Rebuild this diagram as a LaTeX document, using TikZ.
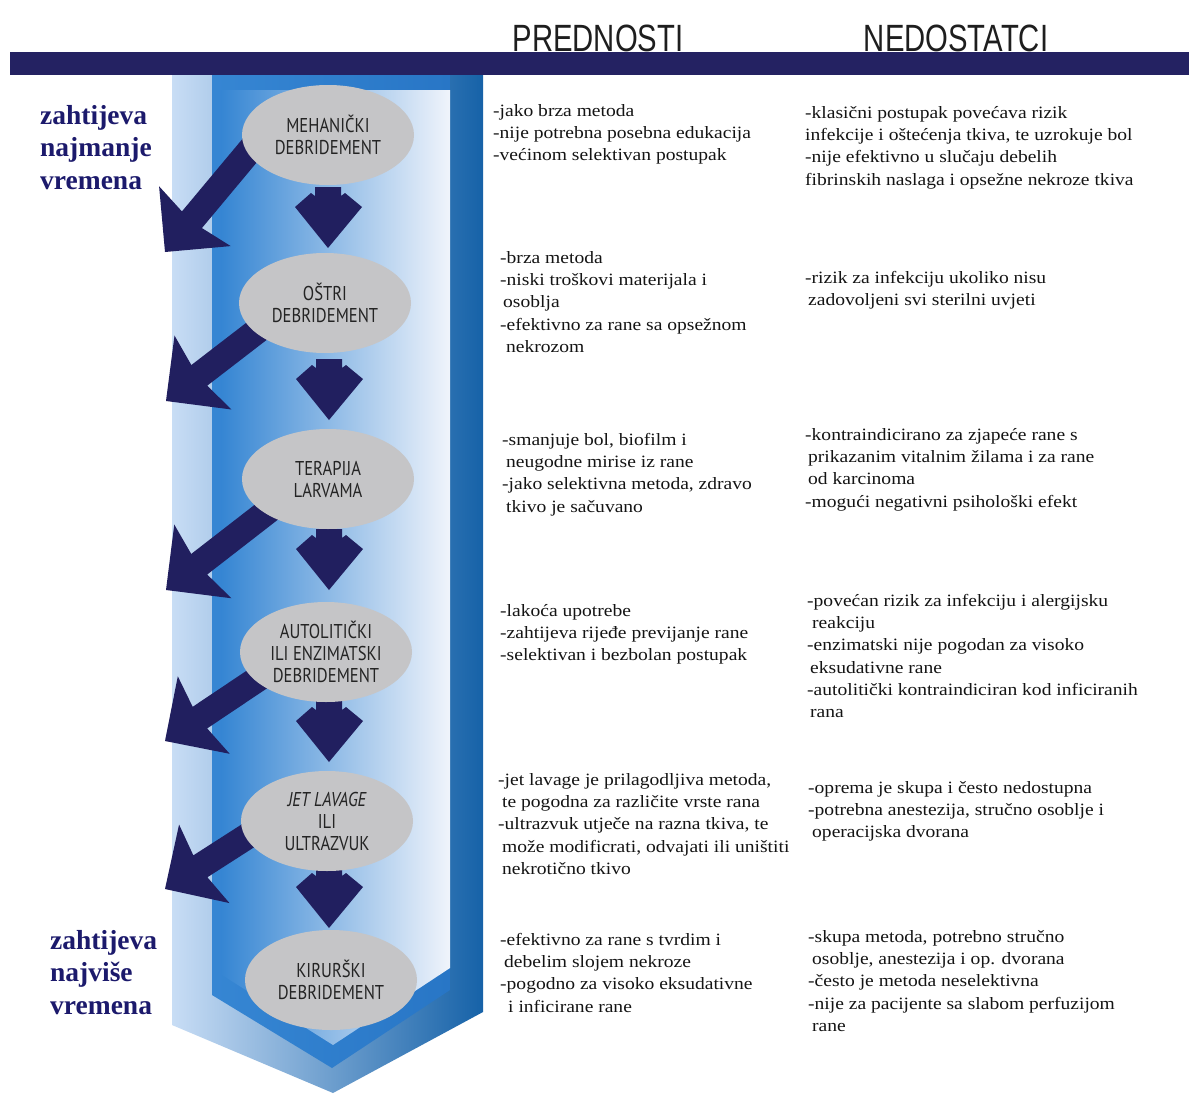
\documentclass[tikz,border=0pt]{standalone}
\usepackage{fontspec}
\setmainfont{Liberation Serif}
\newfontfamily\bodyfont{Liberation Serif}[FakeStretch=1.13]
\newfontfamily\headfont{Liberation Sans}[FakeStretch=0.77]
\newfontfamily\ellfont{PT Sans}[FakeStretch=0.83]
\usetikzlibrary{shapes.geometric,calc}
\definecolor{navy}{RGB}{36,34,98}
\definecolor{arrownavy}{RGB}{33,31,95}
\definecolor{lightband}{RGB}{200,221,245}
\definecolor{darkband}{RGB}{22,98,168}
\definecolor{midblue}{RGB}{54,134,211}
\definecolor{midblue2}{RGB}{40,118,198}
\definecolor{paleblue}{RGB}{240,244,251}
\definecolor{ellgray}{RGB}{197,197,199}
\definecolor{elltext}{RGB}{36,36,36}
\definecolor{labnavy}{RGB}{28,26,108}
\definecolor{headtext}{RGB}{30,30,30}
\newcommand\diagarrow[2]{\fill[diag] (#2) -- ($(#2)!66pt!45:(#1)$) -- ($(#2)!44pt!17.2:(#1)$) -- ($(#1)!13pt!-90:(#2)$) -- ($(#1)!13pt!90:(#2)$) -- ($(#2)!44pt!-17.2:(#1)$) -- ($(#2)!66pt!-45:(#1)$) -- cycle;}
\newcommand\downarrowshape[1]{\fill[downarr] (#1) -- ++(34,-41) -- ++(-17,-14) -- ++(-4,3) -- ++(0,-9) -- ++(-26,0) -- ++(0,9) -- ++(-4,-3) -- ++(-16,14) -- cycle;}
\begin{document}
\begin{tikzpicture}[x=1pt,y=-1pt,
  stage/.style={ellipse, fill=ellgray, minimum width=172pt, minimum height=100pt, inner sep=0pt, font=\ellfont\fontsize{20}{22}\selectfont, text=elltext, align=center},
  body/.style={anchor=north west, inner sep=0pt, align=left, font=\bodyfont\fontsize{17.3}{22.3}\selectfont, text=black!92},
  sidelab/.style={anchor=north west, inner sep=0pt, align=left, font=\bfseries\fontsize{27.5}{32.5}\selectfont, text=labnavy},
  head/.style={anchor=base, inner sep=0pt, font=\headfont\fontsize{38}{40}\selectfont, text=headtext},
  downarr/.style={fill=arrownavy},
  diag/.style={fill=arrownavy}]
\useasboundingbox (0,0) rectangle (1189,1095);
\fill[white] (0,0) rectangle (1189,1095);
% chevron band
\shade[left color=lightband, right color=darkband] (172,75) -- (483,75) -- (483,1012) -- (333,1093) -- (172,1025) -- cycle;
\shade[left color=midblue, right color=midblue2] (212,75) -- (450,75) -- (450,990) -- (332,1068) -- (212,995) -- cycle;
\shade[left color=midblue, right color=paleblue] (222,90) -- (450,90) -- (450,968) -- (333,1045) -- (222,975) -- cycle;
% header bar
\fill[navy] (10,52) rectangle (1189,75);
\node[head] (hp) at (598,51) {PREDNOSTI};
\node[head] (hn) at (956,51) {NEDOSTATCI};
% diagonal arrows
\coordinate (s1) at (261,137); \coordinate (t1) at (165,252);
\coordinate (s2) at (266,324); \coordinate (t2) at (166,401);
\coordinate (s3) at (273,507); \coordinate (t3) at (166,590);
\coordinate (s4) at (274,668); \coordinate (t4) at (165,741);
\coordinate (s5) at (271,821); \coordinate (t5) at (165,889);
\diagarrow{s1}{t1}
\diagarrow{s2}{t2}
\diagarrow{s3}{t3}
\diagarrow{s4}{t4}
\diagarrow{s5}{t5}
% down arrows
\coordinate (d1) at (328,248);
\coordinate (d2) at (329,420);
\coordinate (d3) at (329,590);
\coordinate (d4) at (329,762);
\coordinate (d5) at (329,928);
\downarrowshape{d1}
\downarrowshape{d2}
\downarrowshape{d3}
\downarrowshape{d4}
\downarrowshape{d5}
% stages
\node[stage] (e1) at (328,135) {MEHANIČKI\\DEBRIDEMENT};
\node[stage] (e2) at (325,303) {OŠTRI\\DEBRIDEMENT};
\node[stage] (e3) at (328,479) {TERAPIJA\\LARVAMA};
\node[stage] (e4) at (326,652) {AUTOLITIČKI\\ILI ENZIMATSKI\\DEBRIDEMENT};
\node[stage] (e5) at (327,821) {{\itshape JET LAVAGE}\\ILI\\ULTRAZVUK};
\node[stage] (e6) at (331,980) {KIRURŠKI\\DEBRIDEMENT};
% side labels
\node[sidelab] (lt) at (40,105) {zahtijeva\\najmanje\\vremena};
\node[sidelab] (lb) at (50,930) {zahtijeva\\najviše\\vremena};
% advantages
\node[body] (b1p) at (493,104) {-jako brza metoda\\-nije potrebna posebna edukacija\\-većinom selektivan postupak};
\node[body] (b2p) at (500,251) {-brza metoda\\-niski troškovi materijala i\\\hspace*{3pt}osoblja\\-efektivno za rane sa opsežnom\\\hspace*{6pt}nekrozom};
\node[body] (b3p) at (502,433) {-smanjuje bol, biofilm i\\\hspace*{4pt}neugodne mirise iz rane\\-jako selektivna metoda, zdravo\\\hspace*{4pt}tkivo je sačuvano};
\node[body] (b4p) at (500,604) {-lakoća upotrebe\\-zahtijeva rijeđe previjanje rane\\-selektivan i bezbolan postupak};
\node[body] (b5p) at (498,773) {-jet lavage je prilagodljiva metoda,\\\hspace*{4pt}te pogodna za različite vrste rana\\-ultrazvuk utječe na razna tkiva, te\\\hspace*{4pt}može modificrati, odvajati ili uništiti\\\hspace*{4pt}nekrotično tkivo};
\node[body] (b6p) at (500,933) {-efektivno za rane s tvrdim i\\\hspace*{4pt}debelim slojem nekroze\\-pogodno za visoko eksudativne\\\hspace*{8pt}i inficirane rane};
% disadvantages
\node[body] (b1n) at (805,106) {-klasični postupak povećava rizik\\infekcije i oštećenja tkiva, te uzrokuje bol\\-nije efektivno u slučaju debelih\\fibrinskih naslaga i opsežne nekroze tkiva};
\node[body] (b2n) at (805,271) {-rizik za infekciju ukoliko nisu\\\hspace*{3pt}zadovoljeni svi sterilni uvjeti};
\node[body] (b3n) at (805,428) {-kontraindicirano za zjapeće rane s\\\hspace*{3pt}prikazanim vitalnim žilama i za rane\\\hspace*{3pt}od karcinoma\\-mogući negativni psihološki efekt};
\node[body] (b4n) at (807,594) {-povećan rizik za infekciju i alergijsku\\\hspace*{5pt}reakciju\\-enzimatski nije pogodan za visoko\\\hspace*{3pt}eksudativne rane\\-autolitički kontraindiciran kod inficiranih\\\hspace*{3pt}rana};
\node[body] (b5n) at (808,781) {-oprema je skupa i često nedostupna\\-potrebna anestezija, stručno osoblje i\\\hspace*{4pt}operacijska dvorana};
\node[body] (b6n) at (808,930) {-skupa metoda, potrebno stručno\\\hspace*{4pt}osoblje, anestezija i op. dvorana\\-često je metoda neselektivna\\-nije za pacijente sa slabom perfuzijom\\\hspace*{4pt}rane};
\end{tikzpicture}
\end{document}
